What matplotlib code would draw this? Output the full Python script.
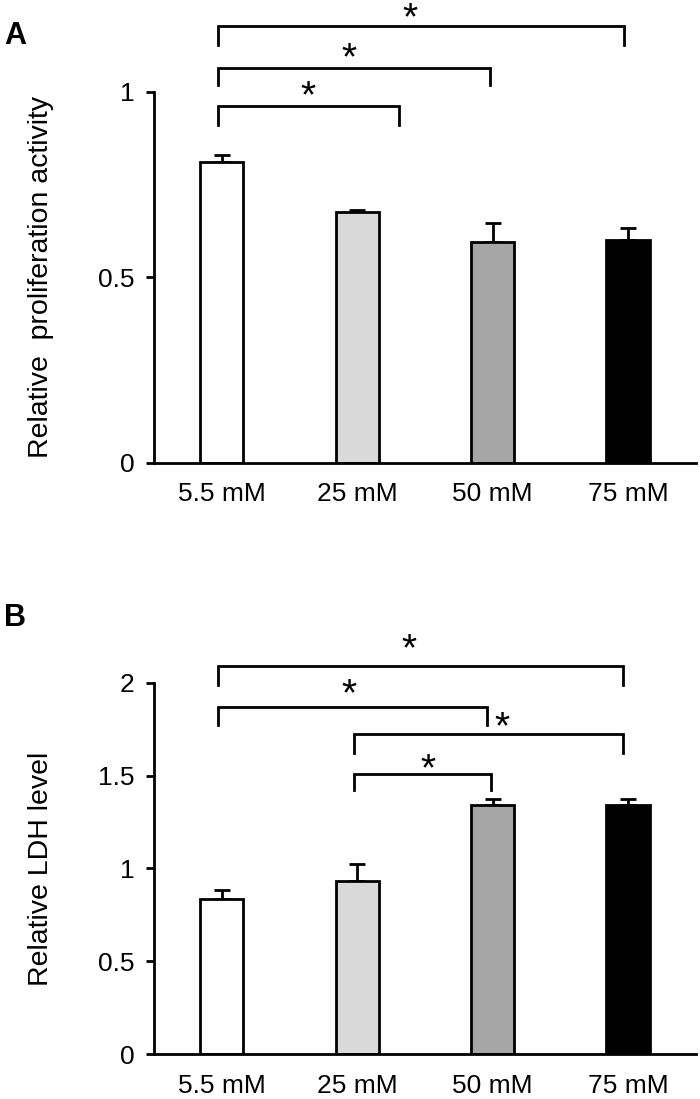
import matplotlib.pyplot as plt

plt.rcParams['font.family'] = ['Liberation Sans', 'DejaVu Sans']

groups = ['5.5 mM', '25 mM', '50 mM', '75 mM']
bar_colors = ['white', '#d9d9d9', '#a6a6a6', 'black']

prolif = [0.81, 0.675, 0.595, 0.60]
prolif_err = [0.02, 0.005, 0.05, 0.033]

ldh = [0.835, 0.935, 1.34, 1.34]
ldh_err = [0.05, 0.09, 0.035, 0.035]

# brackets: (x_left, x_right, y_line, leg_len, star_x, star_baseline)
prolif_sig = [
    (-0.03, 1.31, 0.961, 0.05, 0.64, 0.958),
    (-0.03, 1.98, 1.064, 0.047, 0.94, 1.059),
    (-0.03, 2.97, 1.176, 0.05, 1.39, 1.169),
]
ldh_sig = [
    (-0.03, 2.96, 2.088, 0.10, 1.38, 2.118),
    (-0.03, 1.96, 1.870, 0.095, 0.94, 1.876),
    (0.975, 2.96, 1.724, 0.10, 2.07, 1.70),
    (0.975, 1.99, 1.508, 0.085, 1.52, 1.473),
]


def draw_panel(ax, vals, errs, ticks, ylabel, sig):
    x = range(len(groups))
    ax.errorbar(x, vals, yerr=[[0] * len(errs), errs], fmt='none',
                ecolor='black', elinewidth=2, capsize=6, capthick=2, zorder=1)
    ax.bar(x, vals, width=0.32, color=bar_colors, edgecolor='black',
           linewidth=2, zorder=2)

    ax.set_xlim(-0.5, 3.5)
    ax.set_ylim(0, ticks[-1])
    ax.set_yticks(ticks)
    ax.set_yticklabels([f'{t:g}' for t in ticks])
    ax.set_xticks(list(x))
    ax.set_xticklabels(groups)
    ax.tick_params(axis='x', length=0, pad=14, labelsize=19)
    ax.tick_params(axis='y', length=6, width=2, pad=8, labelsize=19)
    for s in ['top', 'right']:
        ax.spines[s].set_visible(False)
    for s in ['left', 'bottom']:
        ax.spines[s].set_linewidth(2)
    ax.set_ylabel(ylabel, fontsize=20.5)
    ax.yaxis.set_label_coords(-0.185, 0.5)

    for xl, xr, y, leg, sx, sy in sig:
        ax.plot([xl, xl, xr, xr], [y - leg, y, y, y - leg], color='black',
                lw=2, clip_on=False, solid_joinstyle='miter')
        ax.text(sx, sy, '*', fontsize=28, ha='center', va='baseline')


fig = plt.figure(figsize=(7, 10.99), dpi=100)
ax1 = fig.add_axes([0.22, 0.579, 0.774, 0.3376])
ax2 = fig.add_axes([0.22, 0.0407, 0.774, 0.3381])

draw_panel(ax1, prolif, prolif_err, [0, 0.5, 1], 'Relative  proliferation activity', prolif_sig)
draw_panel(ax2, ldh, ldh_err, [0, 0.5, 1, 1.5, 2], 'Relative LDH level', ldh_sig)

fig.text(0.006, 1 - 36 / 1099, 'A', fontsize=22, fontweight='bold', va='center')
fig.text(0.006, 1 - 618 / 1099, 'B', fontsize=22, fontweight='bold', va='center')

fig.savefig('out.png', dpi=100)
